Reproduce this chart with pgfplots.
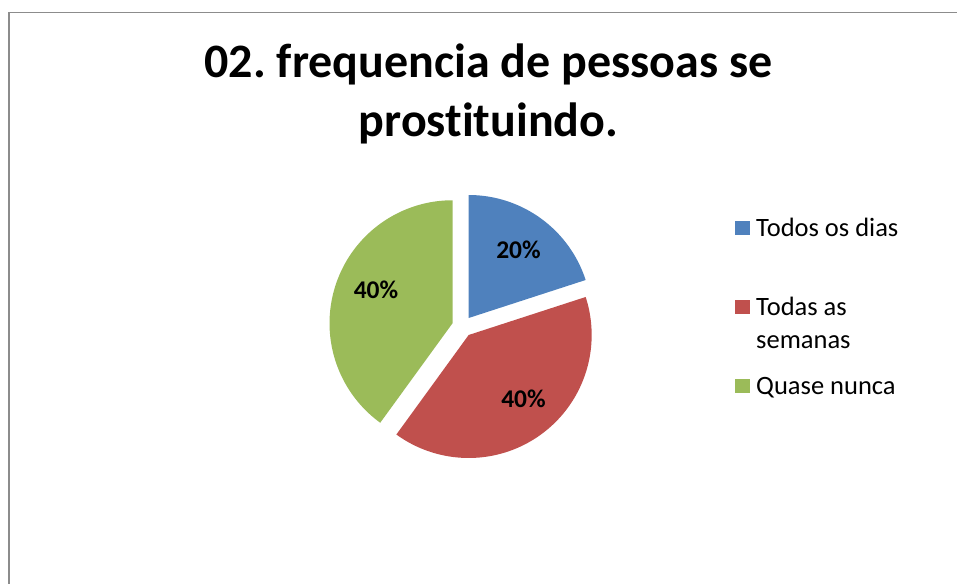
\documentclass[border=0pt]{standalone}
\usepackage{pgfplots}
\usepackage{pgfplotstable}
\pgfplotsset{compat=1.18}
\usepackage{fontspec}
\setmainfont{Carlito}[Ligatures=NoCommon]
\frenchspacing
\definecolor{cblue}{HTML}{4F81BD}
\definecolor{cred}{HTML}{C0504D}
\definecolor{cgreen}{HTML}{9BBB59}
\definecolor{cborder}{HTML}{8C8C8C}

\pgfplotstableread{
label value
TodosOsDias 20
TodasAsSemanas 40
QuaseNunca 40
}\piedata

\begin{document}%
\begin{tikzpicture}
\pgfplotstablegetelem{0}{value}\of\piedata \edef\vA{\pgfplotsretval}
\pgfplotstablegetelem{1}{value}\of\piedata \edef\vB{\pgfplotsretval}
\pgfplotstablegetelem{2}{value}\of\piedata \edef\vC{\pgfplotsretval}
\pgfmathsetmacro\aA{90}
\pgfmathsetmacro\aB{\aA-3.6*\vA}
\pgfmathsetmacro\aC{\aB-3.6*\vB}
\pgfmathsetmacro\aD{\aC-3.6*\vC}
\def\cx{462.5}\def\cy{256.5}\def\R{123}\def\dd{10.5}
\pgfmathsetmacro\mA{(\aA+\aB)/2}\pgfmathsetmacro\oxA{\cx+\dd*cos(\mA)}\pgfmathsetmacro\oyA{\cy+\dd*sin(\mA)}
\pgfmathsetmacro\mB{(\aB+\aC)/2}\pgfmathsetmacro\oxB{\cx+\dd*cos(\mB)}\pgfmathsetmacro\oyB{\cy+\dd*sin(\mB)}
\pgfmathsetmacro\mC{(\aC+\aD)/2}\pgfmathsetmacro\oxC{\cx+\dd*cos(\mC)}\pgfmathsetmacro\oyC{\cy+\dd*sin(\mC)}
\begin{axis}[
  width=957pt, height=583pt, scale only axis,
  xmin=0, xmax=957, ymin=0, ymax=583,
  hide axis, clip=false,
  legend image code/.code={\fill[#1] (0pt,-7pt) rectangle (15pt,7pt);},
  legend cell align=left,
  legend style={at={(axis cs:735,366)}, anchor=north west, draw=none, fill=none,
    inner sep=0pt, row sep=58pt, column sep=4pt,
    font=\fontsize{26.5}{33}\selectfont,
    nodes={inner sep=2pt, text height=17pt, text depth=0pt}},
]
\draw[cborder, line width=1.3pt] (axis cs:9,-5) -- (axis cs:9,570.5) -- (axis cs:965,570.5);

\addplot[fill=cblue, draw=none, domain=\aB:\aA, samples=90, variable=\t]
  ({\oxA+\R*cos(\t)}, {\oyA+\R*sin(\t)}) -- (axis cs:\oxA,\oyA) -- cycle;
\addlegendentry{Todos os dias}
\addplot[fill=cred, draw=none, domain=\aC:\aB, samples=120, variable=\t]
  ({\oxB+\R*cos(\t)}, {\oyB+\R*sin(\t)}) -- (axis cs:\oxB,\oyB) -- cycle;
\addlegendentry{{\begin{tabular}[t]{@{}l@{}}Todas as\\semanas\end{tabular}}}
\addplot[fill=cgreen, draw=none, domain=\aD:\aC, samples=120, variable=\t]
  ({\oxC+\R*cos(\t)}, {\oyC+\R*sin(\t)}) -- (axis cs:\oxC,\oyC) -- cycle;
\addlegendentry{Quase nunca}

\node[anchor=base, font=\fontsize{25.5}{30}\selectfont\bfseries] at (axis cs:518.5,324) {20\%};
\node[anchor=base, font=\fontsize{25.5}{30}\selectfont\bfseries] at (axis cs:523.5,175) {40\%};
\node[anchor=base, font=\fontsize{25.5}{30}\selectfont\bfseries] at (axis cs:376,284) {40\%};

\node[anchor=base, font=\fontsize{48}{58}\selectfont\bfseries] at (axis cs:488.5,505) {02. frequencia de pessoas se};
\node[anchor=base, font=\fontsize{48}{58}\selectfont\bfseries] at (axis cs:488.5,446) {prostituindo.};
\end{axis}
\pgfresetboundingbox
\path (current axis.south west) rectangle (current axis.north east);
\end{tikzpicture}%
\end{document}
